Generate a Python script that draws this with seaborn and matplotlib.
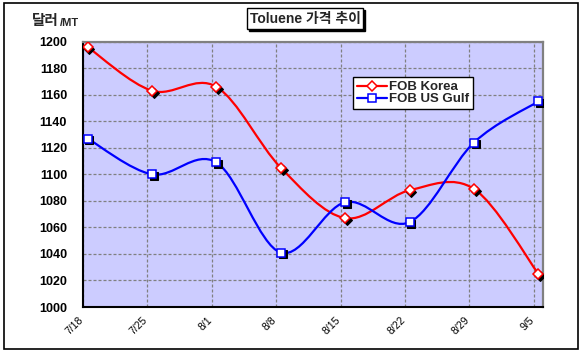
import numpy as np
import pandas as pd
import matplotlib
matplotlib.use("Agg")
import matplotlib.pyplot as plt
import seaborn as sns
import matplotlib.dates as mdates
import matplotlib.transforms as mtransforms
from matplotlib.path import Path
from matplotlib.patches import PathPatch, Rectangle
from matplotlib.lines import Line2D

# ---------------- data ----------------
dates = ["7/18", "7/25", "8/1", "8/8", "8/15", "8/22", "8/29", "9/5"]
fob_korea = [1196, 1163, 1166, 1105, 1067, 1088, 1089, 1025]
fob_usgulf = [1127, 1100, 1109, 1041, 1079, 1064, 1124, 1155]
series_names = ["FOB Korea", "FOB US Gulf"]
y_ticks = [1000, 1020, 1040, 1060, 1080, 1100, 1120, 1140, 1160, 1180, 1200]
title_text = "Toluene 가격 추이"
unit_big = "달러"
unit_small = "/MT"

# ---------------- style ----------------
sns.set_theme(style="white")
plt.rcParams["font.family"] = ["Liberation Sans", "Noto Sans CJK KR", "DejaVu Sans"]

colors = {series_names[0]: "#FF0000", series_names[1]: "#0000FF"}
markers = {series_names[0]: "D", series_names[1]: "s"}
msizes = {series_names[0]: 5.3, series_names[1]: 5.6}

dt = pd.to_datetime(["2008/" + d for d in dates])
xnum = mdates.date2num(dt)
xpos = xnum + 0.5  # points centred within the day

df = pd.DataFrame({
    "x": np.concatenate([xpos, xpos]),
    "price": fob_korea + fob_usgulf,
    "series": [series_names[0]] * len(dates) + [series_names[1]] * len(dates),
})

W, H = 581, 354
fig = plt.figure(figsize=(W / 100, H / 100), dpi=100)
ax = fig.add_axes([83 / W, 47 / H, 460 / W, 265.3 / H])
ax.set_facecolor("#CCCCFF")


def smooth_path(x, y):
    pts = np.column_stack([x, y]).astype(float)
    n = len(pts)
    verts = [pts[0]]
    codes = [Path.MOVETO]
    for i in range(n - 1):
        p0 = pts[i - 1] if i > 0 else pts[i]
        p1 = pts[i]
        p2 = pts[i + 1]
        p3 = pts[i + 2] if i + 2 < n else pts[i + 1]
        c1 = p1 + (p2 - p0) / 6.0
        c2 = p2 - (p3 - p1) / 6.0
        verts += [c1, c2, p2]
        codes += [Path.CURVE4] * 3
    return Path(verts, codes)


shadow_tr = mtransforms.offset_copy(ax.transData, fig=fig, x=1.8, y=-1.8, units="dots")

for name in series_names:
    sub = df[df["series"] == name]
    ax.add_patch(PathPatch(smooth_path(sub["x"].values, sub["price"].values),
                           fill=False, edgecolor=colors[name], lw=1.6,
                           joinstyle="round", capstyle="round", zorder=3))
    # marker shadows
    sns.lineplot(data=sub, x="x", y="price", ax=ax, linestyle="", marker=markers[name],
                 markersize=msizes[name], color="black", markeredgecolor="black",
                 markerfacecolor="black", transform=shadow_tr, legend=False, zorder=4)
    # markers
    sns.lineplot(data=sub, x="x", y="price", ax=ax, linestyle="", marker=markers[name],
                 markersize=msizes[name], color=colors[name], markeredgecolor=colors[name],
                 markerfacecolor="white", markeredgewidth=1.1, legend=False, zorder=5)

# axes limits & ticks
ax.set_xlim(xnum[0], xnum[-1] + 1)
ax.set_ylim(y_ticks[0], y_ticks[-1])
ax.set_yticks(y_ticks)
ax.set_yticklabels([str(v) for v in y_ticks], fontsize=9, fontweight="bold", color="black")
ax.set_xticks(xnum)
ax.set_xticklabels(dates, fontsize=7.5, rotation=45, ha="right", va="top",
                   rotation_mode="anchor", color="black")
ax.tick_params(axis="both", length=0)
ax.tick_params(axis="y", pad=11.5)
ax.tick_params(axis="x", pad=5.5)
shift = mtransforms.ScaledTranslation(-5 / 100, 0, fig.dpi_scale_trans)
for lab in ax.get_xticklabels():
    lab.set_transform(lab.get_transform() + shift)
ax.set_xlabel("")
ax.set_ylabel("")

ax.grid(True, color="#808080", lw=0.9, ls=(0, (2.4, 1.6)))
ax.set_axisbelow(True)

for s in ["left", "bottom"]:
    ax.spines[s].set_color("black")
    ax.spines[s].set_linewidth(1.5)
for s in ["top", "right"]:
    ax.spines[s].set_color("#808080")
    ax.spines[s].set_linewidth(1.6)

# legend
handles = [Line2D([0], [0], color=colors[n], lw=1.6, marker=markers[n], markersize=msizes[n],
                  markerfacecolor="white", markeredgecolor=colors[n], markeredgewidth=1.1)
           for n in series_names]
leg = ax.legend(handles, series_names, loc="upper left", bbox_to_anchor=(0.587, 0.867),
                borderaxespad=0, frameon=True, fancybox=False, framealpha=1,
                edgecolor="black", prop=dict(weight="bold", size=9.5),
                borderpad=0.3, labelspacing=0.0, handlelength=2.3, handletextpad=0.1)
leg.get_frame().set_linewidth(1.0)
leg.set_zorder(10)

# unit label
fig.text(32 / W, (H - 25.5) / H, unit_big, fontsize=10.5, fontweight="bold",
         family=["Noto Sans CJK KR", "DejaVu Sans"], va="baseline", ha="left")
fig.text(60 / W, (H - 25.5) / H, unit_small, fontsize=8, fontweight="bold",
         va="baseline", ha="left")

# title with box and shadow
t = fig.text(305 / W, (H - 18.5) / H, title_text, fontsize=10, fontweight="bold",
             ha="center", va="center",
             bbox=dict(boxstyle="square,pad=0.22", fc="white", ec="black", lw=1.0), zorder=6)
fig.canvas.draw()
bb = t.get_bbox_patch().get_window_extent(fig.canvas.get_renderer())
fig.patches.append(Rectangle(((bb.x0 + 2) / W, (bb.y0 - 2) / H), bb.width / W, bb.height / H,
                             transform=fig.transFigure, fc="black", ec="black", zorder=5))

# outer border
fig.patches.append(Rectangle((4 / W, 5 / H), 574 / W, 346 / H, transform=fig.transFigure,
                             fill=False, ec="black", lw=1.2, zorder=1))

fig.savefig("out.png", dpi=100)
